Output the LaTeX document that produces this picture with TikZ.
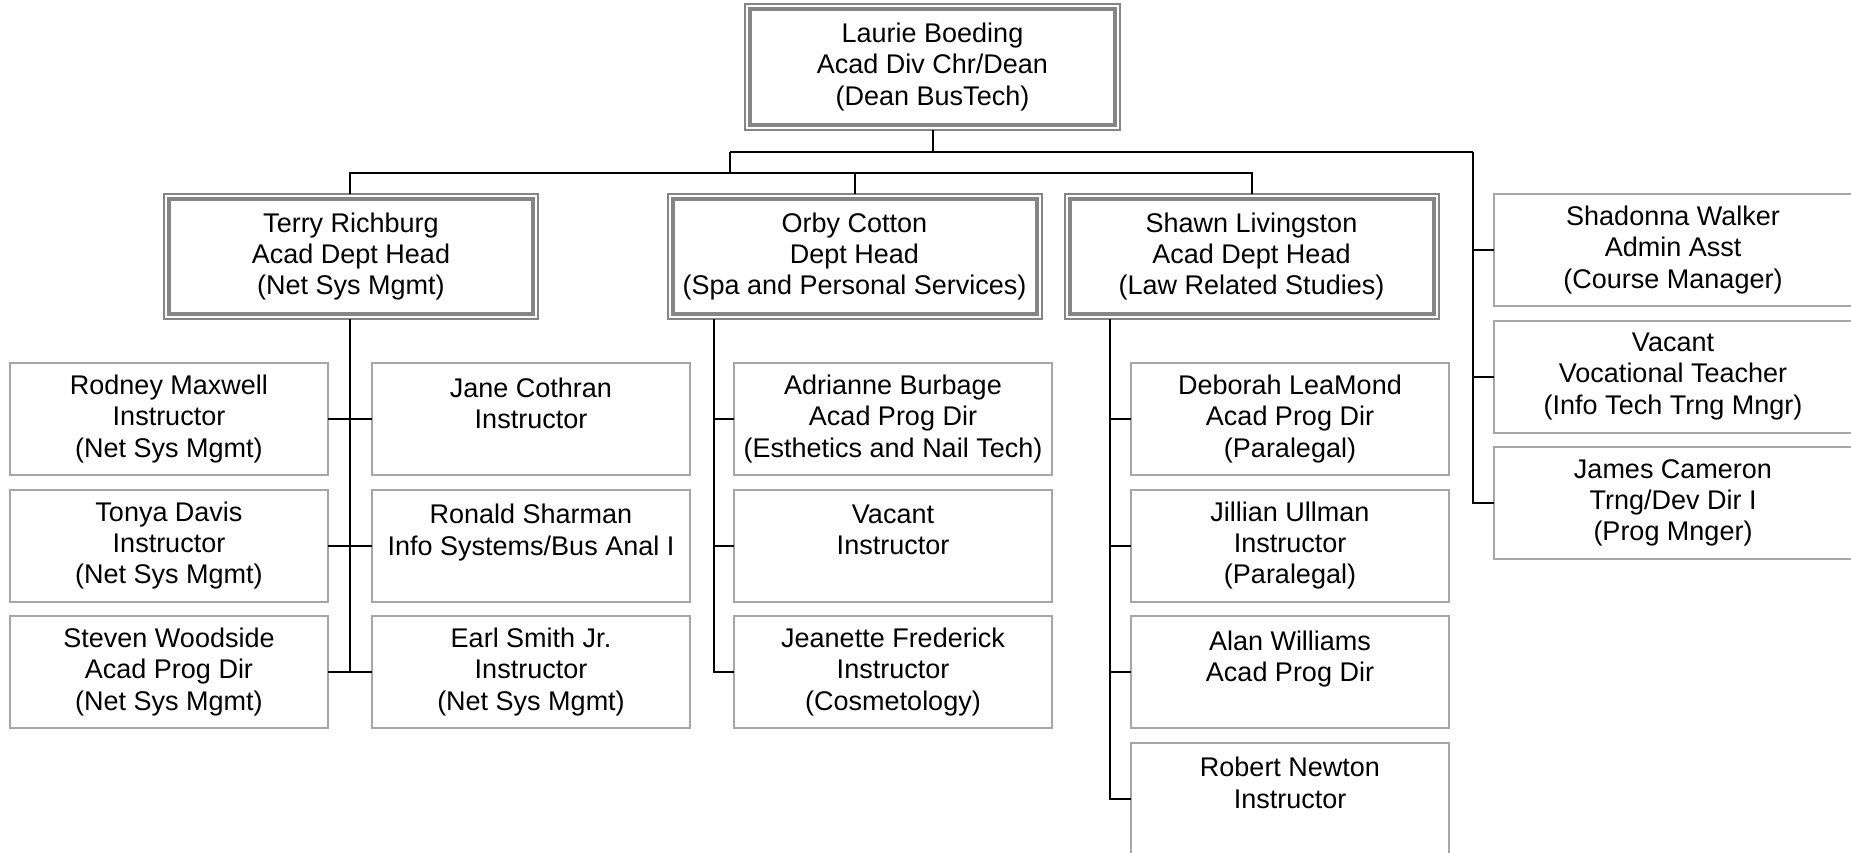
\documentclass[tikz,border=0pt]{standalone}
\usepackage{fontspec}
\setmainfont{Liberation Sans}
\definecolor{boxgray}{HTML}{A6A6A6}
\definecolor{headgray}{HTML}{858585}
\begin{document}
\begin{tikzpicture}[x=1pt,y=-1pt,
  txt/.style={font=\fontsize{27}{31.3}\selectfont, align=center, text=black, inner sep=0pt, outer sep=0pt},
  box/.style={txt, draw=boxgray, line width=2pt, minimum width=318pt, minimum height=112pt},
  rbox/.style={box, minimum width=358pt},
  headbox/.style={txt, draw=headgray, line width=2pt, minimum width=374pt, minimum height=125pt,
    path picture={\draw[headgray, line width=4pt]
      ([shift={(5pt,-5pt)}]path picture bounding box.north west) rectangle
      ([shift={(-5pt,5pt)}]path picture bounding box.south east);}},
  conn/.style={draw=black, line width=2pt}]
\useasboundingbox (0,0) rectangle (1851,852);

% level 1
\node[headbox, minimum width=375pt, minimum height=126pt] (laurie) at (932.5,67) {Laurie Boeding\\Acad Div Chr/Dean\\(Dean BusTech)};

% level 2
\node[headbox] (terry) at (351,256.5) {Terry Richburg\\Acad Dept Head\\(Net Sys Mgmt)};
\node[headbox] (orby) at (854.5,256.5) {Orby Cotton\\Dept Head\\(Spa and Personal Services)};
\node[headbox] (shawn) at (1251.5,256.5) {Shawn Livingston\\Acad Dept Head\\(Law Related Studies)};

% right column
\node[rbox] (shadonna) at (1673,250) {Shadonna Walker\\Admin Asst\\(Course Manager)};
\node[rbox] (vacantv) at (1673,376.5) {Vacant\\Vocational Teacher\\(Info Tech Trng Mngr)};
\node[rbox] (james) at (1673,503) {James Cameron\\Trng/Dev Dir I\\(Prog Mnger)};

% Terry's staff
\node[box] (rodney) at (169,419) {Rodney Maxwell\\Instructor\\(Net Sys Mgmt)};
\node[box] (tonya) at (169,545.5) {Tonya Davis\\Instructor\\(Net Sys Mgmt)};
\node[box] (steven) at (169,672) {Steven Woodside\\Acad Prog Dir\\(Net Sys Mgmt)};
\node[box] (jane) at (531,419) {Jane Cothran\\Instructor\\\phantom{X}};
\node[box] (ronald) at (531,545.5) {Ronald Sharman\\Info Systems/Bus Anal I\\\phantom{X}};
\node[box] (earl) at (531,672) {Earl Smith Jr.\\Instructor\\(Net Sys Mgmt)};

% Orby's staff
\node[box] (adrianne) at (893,419) {Adrianne Burbage\\Acad Prog Dir\\(Esthetics and Nail Tech)};
\node[box] (vacanti) at (893,545.5) {Vacant\\Instructor\\\phantom{X}};
\node[box] (jeanette) at (893,672) {Jeanette Frederick\\Instructor\\(Cosmetology)};

% Shawn's staff
\node[box] (deborah) at (1290,419) {Deborah LeaMond\\Acad Prog Dir\\(Paralegal)};
\node[box] (jillian) at (1290,545.5) {Jillian Ullman\\Instructor\\(Paralegal)};
\node[box] (alan) at (1290,672) {Alan Williams\\Acad Prog Dir\\\phantom{X}};
\node[box] (robert) at (1290,798.5) {Robert Newton\\Instructor\\\phantom{X}};

% bus coordinates
\coordinate (b1) at (730,152);
\coordinate (b2) at (1473,152);
\coordinate (b3) at (730,173);
\coordinate (tv) at (350,319);
\coordinate (ov) at (714,319);
\coordinate (sv) at (1110,319);

% top connectors
\draw[conn] (laurie.south) -- (laurie.south |- b1);
\draw[conn] (b1) -- (b2);
\draw[conn] (b1) -- (b3);
\draw[conn] (tv |- terry.north) -- (tv |- b3) -- (shawn.north |- b3) -- (shawn.north);
\draw[conn] (orby.north) -- (orby.north |- b3);
\draw[conn] (b2) |- (james.west);
\draw[conn] (b2 |- shadonna.west) -- (shadonna.west);
\draw[conn] (b2 |- vacantv.west) -- (vacantv.west);

% Terry's connectors
\draw[conn] (tv) -- (tv |- steven.east);
\draw[conn] (rodney.east) -- (jane.west);
\draw[conn] (tonya.east) -- (ronald.west);
\draw[conn] (steven.east) -- (earl.west);

% Orby's connectors
\draw[conn] (ov) |- (jeanette.west);
\draw[conn] (ov |- adrianne.west) -- (adrianne.west);
\draw[conn] (ov |- vacanti.west) -- (vacanti.west);

% Shawn's connectors
\draw[conn] (sv) |- (robert.west);
\draw[conn] (sv |- deborah.west) -- (deborah.west);
\draw[conn] (sv |- jillian.west) -- (jillian.west);
\draw[conn] (sv |- alan.west) -- (alan.west);
\end{tikzpicture}
\end{document}
